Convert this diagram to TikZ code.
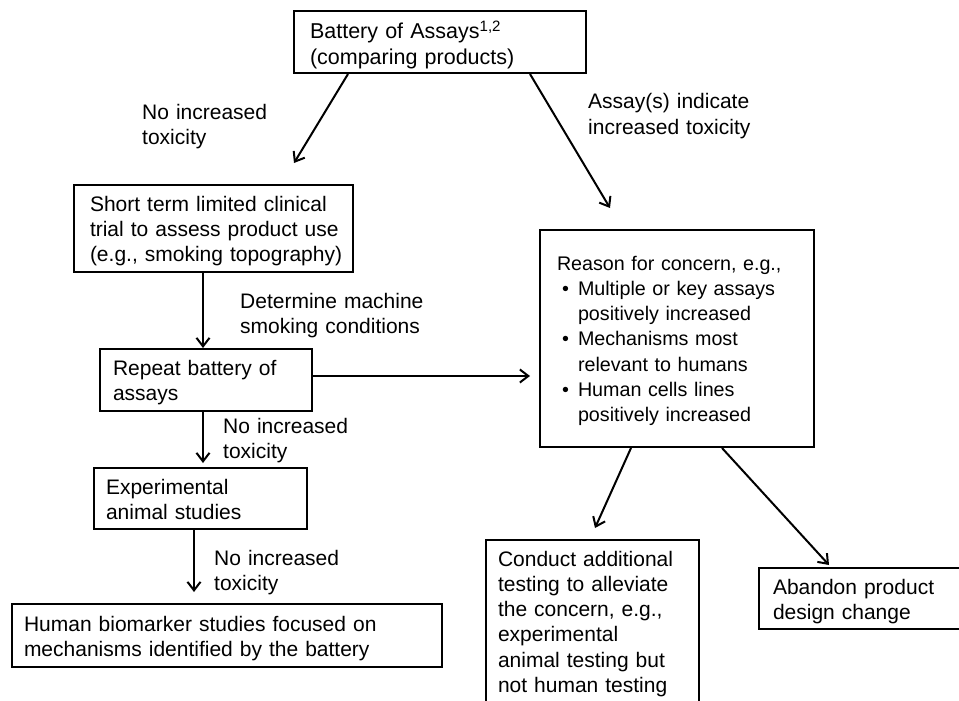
\documentclass[tikz,border=0pt]{standalone}
\usepackage{fontspec}
\setmainfont{Liberation Sans}
\usetikzlibrary{arrows.meta}
\newcommand\bitem{\makebox[21pt][l]{\hspace{5pt}\textbullet}}
\newcommand\fnta{\fontsize{21}{25.3}\selectfont}
\newcommand\fntb{\fontsize{19.7}{25.3}\selectfont}
\newcommand\fntc{\fontsize{21.5}{25.3}\selectfont}
\begin{document}
\begin{tikzpicture}[x=1pt,y=-1pt,
  font=\fnta,
  box/.style={draw, line width=2pt, align=left, anchor=north west, inner ysep=0pt},
  lbl/.style={anchor=base west, inner sep=0pt, align=left, text width=230pt},
  arr/.style={-{Straight Barb[length=8.5pt,width=13pt,line width=2pt]}, line width=2pt}]
\useasboundingbox (0,0) rectangle (959,701);

\node[box, font=\fntc, text width=260pt, inner xsep=16pt, text height=28pt, text depth=34pt] (b1) at (293,10)
  {Battery of Assays\textsuperscript{1,2}\\(comparing products)};
\node[box, text width=247pt, inner xsep=16pt, text height=26pt, text depth=61pt] (b2) at (73,184)
  {\mbox{Short term limited clinical}\\\mbox{trial to assess product use}\\\mbox{(e.g., smoking topography)}};
\node[box, text width=186pt, inner xsep=13pt, text height=26pt, text depth=36pt] (b3) at (99,348)
  {Repeat battery of\\assays};
\node[box, text width=189pt, inner xsep=12pt, text height=26pt, text depth=35pt] (b4) at (93,467)
  {Experimental\\animal studies};
\node[box, text width=406pt, inner xsep=12pt, text height=27pt, text depth=36pt] (b5) at (11,603)
  {Human biomarker studies focused on\\mechanisms identified by the battery};
\node[box, font=\fntb, text width=240pt, inner xsep=17pt, text height=40pt, text depth=177pt] (b6) at (539,229)
  {\mbox{Reason for concern, e.g.,}\\
   \bitem Multiple or key assays\\
   \hspace*{21pt}positively increased\\
   \bitem Mechanisms most\\
   \hspace*{21pt}relevant to humans\\
   \bitem Human cells lines\\
   \hspace*{21pt}positively increased};
\node[box, text width=189pt, inner xsep=12pt, text height=26pt, text depth=151pt] (b7) at (485,539)
  {Conduct additional\\testing to alleviate\\the concern, e.g.,\\experimental\\animal testing but\\not human testing};
\node[box, text width=194pt, inner xsep=14pt, text height=26pt, text depth=35pt] (b8) at (758,567)
  {Abandon product\\design change};

\node[lbl] (l1) at (142,119) {No increased\\toxicity};
\node[lbl] (l2) at (588,109) {Assay(s) indicate\\increased toxicity};
\node[lbl] (l3) at (240,308) {Determine machine\\smoking conditions};
\node[lbl] (l4) at (223,433) {No increased\\toxicity};
\node[lbl] (l5) at (214,565) {No increased\\toxicity};

\coordinate (t1) at (294,163);
\coordinate (t2) at (610,208);
\coordinate (t7) at (595,528);
\coordinate (t8) at (829,565);

\draw[arr] ([xshift=55pt]b1.south west) -- (t1);
\draw[arr] ([xshift=237pt]b1.south west) -- (t2);
\draw[arr] ([xshift=-10.5pt]b2.south) -- ([xshift=-3pt]b3.north);
\draw[arr, shorten >=9pt] ([yshift=4pt]b3.east) -- ([yshift=4pt]b3.east -| b6.west);
\draw[arr, shorten >=4pt] ([xshift=-3pt]b3.south) -- ([xshift=2.5pt]b4.north);
\draw[arr, shorten >=11pt] ([xshift=-6.5pt]b4.south) -- ([xshift=-33pt]b5.north);
\draw[arr] ([xshift=92pt]b6.south west) -- (t7);
\draw[arr] ([xshift=183pt]b6.south west) -- (t8);
\end{tikzpicture}
\end{document}
